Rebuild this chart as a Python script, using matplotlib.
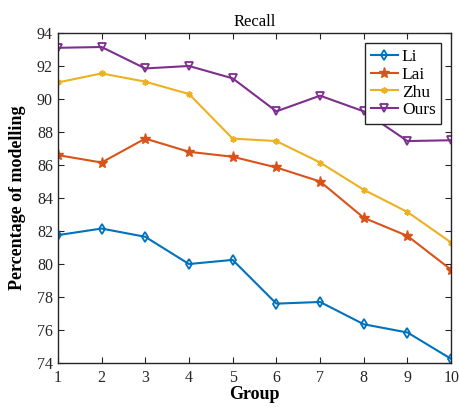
import numpy as np
import matplotlib
matplotlib.use("Agg")
import matplotlib.pyplot as plt

plt.rcParams['font.family'] = ['Liberation Serif', 'DejaVu Serif']
plt.rcParams['mathtext.fontset'] = 'stix'

# dados
groups = np.arange(1, 11)
li = [81.75, 82.15, 81.65, 80.0, 80.25, 77.6, 77.7, 76.35, 75.85, 74.25]
lai = [86.6, 86.15, 87.6, 86.8, 86.5, 85.85, 85.0, 82.8, 81.7, 79.65]
zhu = [91.0, 91.55, 91.05, 90.3, 87.6, 87.45, 86.15, 84.5, 83.15, 81.3]
ours = [93.1, 93.15, 91.85, 92.0, 91.25, 89.25, 90.2, 89.25, 87.45, 87.5]

fig = plt.figure(figsize=(4.59, 4.07), dpi=100)
ax = fig.add_axes([0.126, 0.108, 0.857, 0.811])

ax.plot(groups, li, color='#0072BD', marker='d', ms=5, mfc='none', mew=1.3, lw=1.5, label='Li')
ax.plot(groups, lai, color='#D95319', marker='*', ms=8, lw=1.5, label='Lai')
ax.plot(groups, zhu, color='#EDB120', marker=(6, 2, 0), ms=4.5, mew=1.2, lw=1.5, label='Zhu')
ax.plot(groups, ours, color='#7E2F8E', marker='v', ms=6, mfc='none', mew=1.3, lw=1.5, label='Ours')

ax.set_xlim(1, 10)
ax.set_ylim(74, 94)
ax.set_xticks(groups)
ax.set_yticks(np.arange(74, 95, 2))
ax.tick_params(direction='in', top=True, right=True, labelsize=11.5, length=4, colors='#262626')
ax.tick_params(axis='x', pad=5)
for s in ax.spines.values():
    s.set_color('#262626')
    s.set_linewidth(1.0)

ax.set_title('Recall', fontsize=12, pad=5)
ax.set_xlabel('Group', fontsize=13, fontweight='bold', labelpad=0)
ax.set_ylabel('Percentage of modelling', fontsize=13, fontweight='bold', labelpad=8)

leg = ax.legend(loc='upper right', fontsize=12.5, fancybox=False, edgecolor='#262626',
                handlelength=1.6, handletextpad=0.2, borderpad=0.3, labelspacing=0.1,
                borderaxespad=0.6, framealpha=1)
leg.get_frame().set_linewidth(1.0)

fig.savefig('out.png', dpi=100)
